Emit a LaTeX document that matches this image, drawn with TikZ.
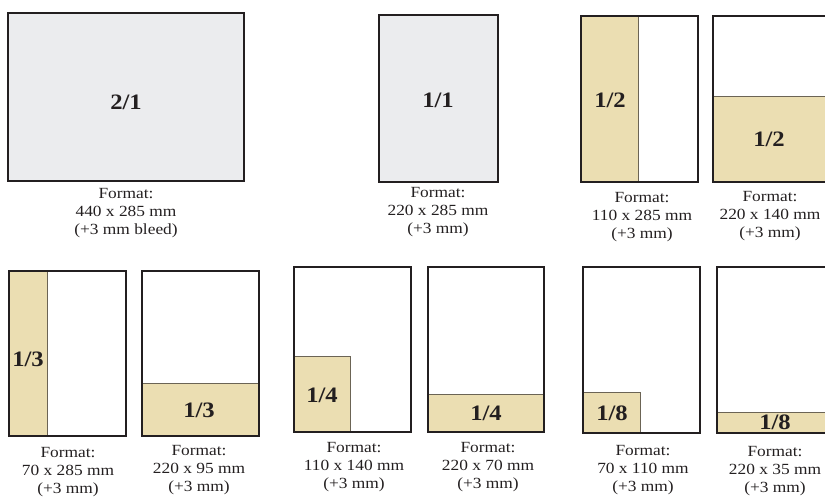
\documentclass[tikz,border=0pt]{standalone}
\usepackage{fontspec}
\setmainfont{Liberation Serif}[FakeStretch=1.12]
\definecolor{ink}{HTML}{231F20}
\definecolor{tan}{HTML}{EBDEB2}
\definecolor{pale}{HTML}{EBECEE}
\definecolor{split}{HTML}{6B6455}
\tikzset{
  pagebox/.style={draw=ink, line width=1.8pt, fill=white},
  fullbox/.style={draw=ink, line width=1.8pt, fill=pale},
  adbox/.style={draw=split, line width=1pt, fill=tan},
  outline/.style={draw=ink, line width=1.8pt},
  lbl/.style={font=\fontsize{22}{24}\selectfont\bfseries, text=ink, inner sep=0pt},
  fmt/.style={font=\fontsize{15.5}{18}\selectfont, text=ink, align=center, inner sep=0pt}
}
\begin{document}
\begin{tikzpicture}[x=1pt,y=-1pt]
\useasboundingbox (0,0) rectangle (825,496);
\clip (0,0) rectangle (825,496);
% 2/1
\draw[fullbox] (8,13) rectangle (244,181);
\node[lbl] (l21) at (126,102) {2/1};
\node[fmt] (f21) at (126,213) {Format:\\440 x 285 mm\\(+3 mm bleed)};
% 1/1
\draw[fullbox] (379,15) rectangle (498,182);
\node[lbl] (l11) at (438,100) {1/1};
\node[fmt] (f11) at (438,212) {Format:\\220 x 285 mm\\(+3 mm)};
% 1/2 vertical
\draw[pagebox] (581,16) rectangle (698,182);
\draw[adbox] (581,16) rectangle (638,182);
\draw[outline] (581,16) rectangle (698,182);
\node[lbl] (l12v) at (610,100) {1/2};
\node[fmt] (f12v) at (642,217) {Format:\\110 x 285 mm\\(+3 mm)};
% 1/2 horizontal
\draw[pagebox] (713,16) rectangle (830,182);
\draw[adbox] (713,96) rectangle (830,182);
\draw[outline] (713,16) rectangle (830,182);
\node[lbl] (l12h) at (769,139) {1/2};
\node[fmt] (f12h) at (770,216) {Format:\\220 x 140 mm\\(+3 mm)};
% 1/3 vertical
\draw[pagebox] (9,271) rectangle (126,436);
\draw[adbox] (9,271) rectangle (47,436);
\draw[outline] (9,271) rectangle (126,436);
\node[lbl] (l13v) at (28,359) {1/3};
\node[fmt] (f13v) at (68,472) {Format:\\70 x 285 mm\\(+3 mm)};
% 1/3 horizontal
\draw[pagebox] (142,271) rectangle (259,436);
\draw[adbox] (142,383) rectangle (259,436);
\draw[outline] (142,271) rectangle (259,436);
\node[lbl] (l13h) at (199,410) {1/3};
\node[fmt] (f13h) at (199,470) {Format:\\220 x 95 mm\\(+3 mm)};
% 1/4 block
\draw[pagebox] (294,267) rectangle (411,432);
\draw[adbox] (294,356) rectangle (350,432);
\draw[outline] (294,267) rectangle (411,432);
\node[lbl] (l14a) at (322,395) {1/4};
\node[fmt] (f14a) at (354,467) {Format:\\110 x 140 mm\\(+3 mm)};
% 1/4 horizontal
\draw[pagebox] (428,267) rectangle (544,432);
\draw[adbox] (428,394) rectangle (544,432);
\draw[outline] (428,267) rectangle (544,432);
\node[lbl] (l14h) at (486,413) {1/4};
\node[fmt] (f14h) at (488,467) {Format:\\220 x 70 mm\\(+3 mm)};
% 1/8 block
\draw[pagebox] (583,267) rectangle (700,433);
\draw[adbox] (583,392) rectangle (640,433);
\draw[outline] (583,267) rectangle (700,433);
\node[lbl] (l18a) at (612,413) {1/8};
\node[fmt] (f18a) at (643,470) {Format:\\70 x 110 mm\\(+3 mm)};
% 1/8 horizontal
\draw[pagebox] (717,267) rectangle (834,433);
\draw[adbox] (717,412) rectangle (834,433);
\draw[outline] (717,267) rectangle (834,433);
\node[lbl] (l18h) at (775,422) {1/8};
\node[fmt] (f18h) at (775,471) {Format:\\220 x 35 mm\\(+3 mm)};
\end{tikzpicture}
\end{document}
